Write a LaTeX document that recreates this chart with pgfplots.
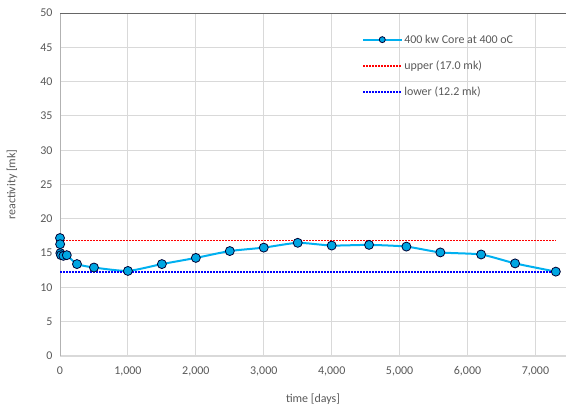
\documentclass[border=0pt]{standalone}
\usepackage{fontspec}
\setmainfont{Carlito}
\usepackage{pgfplots}
\pgfplotsset{compat=1.18}
\definecolor{lblue}{RGB}{0,176,240}
\definecolor{mfill}{RGB}{0,166,226}
\definecolor{txt}{RGB}{89,89,89}
\definecolor{gridc}{RGB}{217,217,217}
\begin{document}
\begin{tikzpicture}[x=1bp,y=1bp]
\useasboundingbox (-60,-49) rectangle (506,356);
\begin{axis}[
  at={(0,0)}, anchor=south west,
  scale only axis, width=506bp, height=343bp,
  xmin=0, xmax=7450, ymin=0, ymax=50,
  xtick={0,1000,...,7000}, ytick={0,5,...,50},
  grid=major, grid style={gridc, line width=0.9bp},
  axis line style={draw=none},
  major tick length=0pt,
  tick label style={font=\fontsize{12}{14}\selectfont, text=txt},
  /pgf/number format/assume math mode=true,
  /pgf/number format/1000 sep={,},
  xticklabel style={yshift=-7bp},
  yticklabel style={xshift=-4bp},
  xlabel={time [days]}, ylabel={reactivity [mk]},
  label style={font=\fontsize{12}{14}\selectfont, text=txt},
  xlabel style={at={(axis description cs:0.5,0)}, yshift=-46bp, anchor=base},
  ylabel style={at={(axis description cs:-0.095,0.5)}, anchor=center},
  clip=false,
  legend cell align=left,
  legend style={draw=none, fill=none, at={(0.597,0.943)}, anchor=north west,
    font=\fontsize{12}{14}\selectfont, text=txt, row sep=12bp, inner sep=0pt},
  legend image code/.code={\draw[#1, mark repeat=2, mark phase=2, mark size=3bp] plot coordinates {(0bp,0bp) (19bp,0bp) (38bp,0bp)};},
]
\draw[gridc, line width=1.6bp] (rel axis cs:0,0) -- (rel axis cs:1,0);
\draw[gray!60, line width=0.9bp] (rel axis cs:0,0) -- (rel axis cs:0,1);
\draw[gray!80!black, line width=0.9bp] (rel axis cs:0,1) -- (rel axis cs:1,1);
\addplot[lblue, line width=2bp, smooth, tension=0.35, mark=*, mark size=4.5bp,
  mark options={fill=mfill, draw=black!80!blue, line width=0.8bp}] coordinates {
  (0,17.2) (2,16.3) (5,15.0) (15,14.7) (50,14.6) (100,14.7)
  (250,13.4) (500,12.9) (1000,12.4) (1500,13.4) (2000,14.3)
  (2500,15.3) (3000,15.8) (3500,16.5) (4000,16.1) (4550,16.2)
  (5100,15.95) (5600,15.1) (6200,14.8) (6700,13.5) (7300,12.3)
};
\addlegendentry{400 kw Core at 400 oC}
\addplot[red, line width=1.8bp, dash pattern=on 1.7bp off 1.3bp] coordinates {(0,16.85) (7300,16.85)};
\addlegendentry{upper (17.0 mk)}
\addplot[blue, line width=1.8bp, dash pattern=on 1.7bp off 1.3bp] coordinates {(0,12.2) (7300,12.2)};
\addlegendentry{lower (12.2 mk)}
\end{axis}
\end{tikzpicture}
\end{document}
